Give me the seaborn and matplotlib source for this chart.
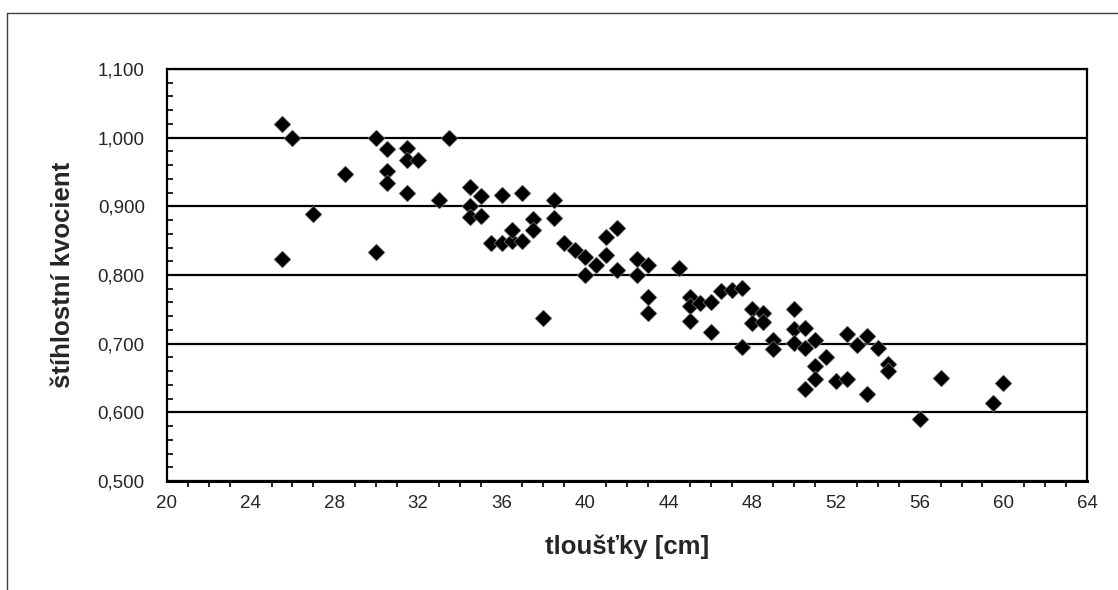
import numpy as np
import pandas as pd
import matplotlib
matplotlib.use("Agg")
import matplotlib.pyplot as plt
from matplotlib.lines import Line2D
from matplotlib.ticker import FuncFormatter, MultipleLocator
import seaborn as sns

# tree diameter [cm] vs. slenderness quotient
thickness = [
    25.5, 26, 30, 30.5, 31.5, 31.5, 32, 33.5, 28.5, 30.5,
    30.5, 31.5, 33, 34.5, 34.5, 34.5, 35, 35, 27, 25.5,
    30, 36, 37, 38.5, 37.5, 37.5, 38.5, 35.5, 36, 36.5,
    36.5, 37, 39, 39.5, 40, 40, 40.5, 41, 41, 41.5,
    41.5, 42.5, 42.5, 43, 43, 43, 44.5, 38, 45, 45,
    45, 45.5, 46, 46, 46.5, 47, 47.5, 48, 48, 47.5,
    48.5, 48.5, 49, 49, 50, 50, 50, 50.5, 50.5, 51,
    51.5, 51, 51, 50.5, 52, 52.5, 52.5, 53, 53.5, 53.5,
    54, 54.5, 54.5, 56, 57, 59.5, 60,
]
quotient = [
    1.020, 1.000, 1.000, 0.983, 0.985, 0.968, 0.968, 1.000, 0.947, 0.951,
    0.934, 0.920, 0.909, 0.928, 0.900, 0.884, 0.915, 0.886, 0.889, 0.823,
    0.833, 0.916, 0.919, 0.909, 0.881, 0.866, 0.883, 0.846, 0.846, 0.849,
    0.865, 0.850, 0.847, 0.836, 0.826, 0.800, 0.815, 0.829, 0.855, 0.868,
    0.807, 0.824, 0.800, 0.815, 0.768, 0.744, 0.810, 0.738, 0.768, 0.755,
    0.733, 0.759, 0.761, 0.717, 0.776, 0.778, 0.781, 0.751, 0.730, 0.695,
    0.744, 0.731, 0.705, 0.692, 0.751, 0.721, 0.701, 0.723, 0.693, 0.706,
    0.681, 0.668, 0.649, 0.634, 0.645, 0.648, 0.714, 0.698, 0.711, 0.627,
    0.694, 0.670, 0.660, 0.590, 0.650, 0.614, 0.642,
]

x_ticks = list(range(20, 65, 4))
y_ticks = [0.5, 0.6, 0.7, 0.8, 0.9, 1.0, 1.1]
x_label = "tloušťky [cm]"
y_label = "štíhlostní kvocient"

df = pd.DataFrame({"thickness": thickness, "quotient": quotient})

sns.set_style("white")
plt.rcParams["font.family"] = ["Liberation Sans", "DejaVu Sans"]

fig = plt.figure(figsize=(11.18, 5.90), dpi=100)
ax = fig.add_axes([167 / 1118, 1 - 481 / 590, 920 / 1118, 412 / 590])

sns.scatterplot(
    data=df, x="thickness", y="quotient", ax=ax,
    marker="D", s=75, color="black",
    edgecolor="#9a9a9a", linewidth=0.4, zorder=3,
)

ax.set_xlim(x_ticks[0], x_ticks[-1])
ax.set_ylim(y_ticks[0], y_ticks[-1])
ax.set_xticks(x_ticks)
ax.set_yticks(y_ticks)
ax.xaxis.set_minor_locator(MultipleLocator(1))
ax.yaxis.set_minor_locator(MultipleLocator(0.02))
ax.yaxis.set_major_formatter(FuncFormatter(lambda v, p: f"{v:.3f}".replace(".", ",")))

ax.grid(axis="y", which="major", color="black", linewidth=1.6)
ax.grid(axis="x", visible=False)
for side in ["left", "right", "top", "bottom"]:
    ax.spines[side].set_visible(True)
    ax.spines[side].set_color("black")
    ax.spines[side].set_linewidth(1.6)
ax.spines["bottom"].set_linewidth(2.2)

ax.tick_params(axis="x", which="major", direction="inout", length=12, width=1.2,
               labelsize=13.5, pad=4, color="black")
ax.tick_params(axis="x", which="minor", direction="out", length=4.5, width=1.2,
               color="black", bottom=True)
ax.tick_params(axis="y", which="major", direction="out", length=6, width=1.6,
               labelsize=13.5, pad=10, color="black")
ax.tick_params(axis="y", which="minor", direction="in", length=4.5, width=1.2,
               color="black", left=True)

ax.set_xlabel(x_label, fontsize=18.5, fontweight="bold")
ax.set_ylabel(y_label, fontsize=18.5, fontweight="bold")
ax.xaxis.set_label_coords(0.5, -0.13)
ax.yaxis.set_label_coords(-0.1, 0.5)

# outer chart border (left and top edges visible in the crop)
fig.add_artist(Line2D([7 / 1118, 7 / 1118], [0, 1 - 13 / 590],
                      transform=fig.transFigure, color="#404040", lw=1))
fig.add_artist(Line2D([7 / 1118, 1], [1 - 13 / 590, 1 - 13 / 590],
                      transform=fig.transFigure, color="#404040", lw=1))

fig.savefig("out.png", dpi=100)
